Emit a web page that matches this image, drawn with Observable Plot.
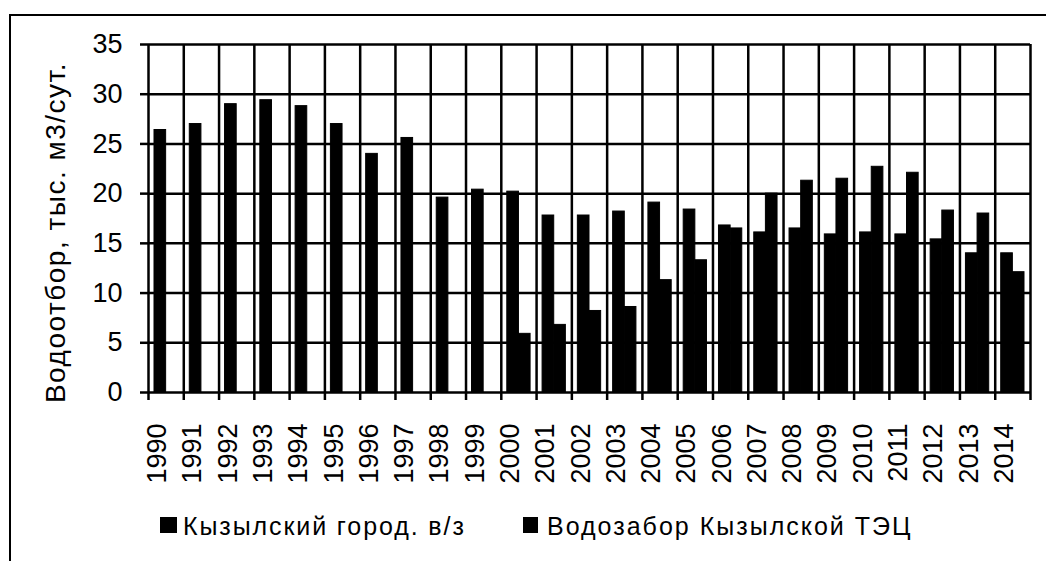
<!DOCTYPE html>
<html><head><meta charset="utf-8">
<script src="https://cdn.jsdelivr.net/npm/d3@7"></script>
<script src="https://cdn.jsdelivr.net/npm/@observablehq/plot@0.6"></script>
<style>
body{margin:0;background:#fff;}
#wrap{position:relative;width:1046px;height:561px;overflow:hidden;font-family:"Liberation Sans",Arial,sans-serif;background:#fff;}
#frame{position:absolute;left:9px;top:14px;right:-5px;bottom:-5px;border-left:2px solid #000;border-top:2px solid #000;}
#chart{position:absolute;left:0;top:0;}
.leg{position:absolute;top:514px;font-size:25px;line-height:25px;white-space:nowrap;color:#000;}
.sw{position:absolute;background:#000;}
</style></head><body>
<div id="wrap"><div id="frame"></div><div id="chart"></div><div id="legend"></div></div>
<script>
const years = [1990,1991,1992,1993,1994,1995,1996,1997,1998,1999,2000,2001,2002,2003,2004,2005,2006,2007,2008,2009,2010,2011,2012,2013,2014];
const kyzylCity = [26.4,27.0,29.0,29.4,28.8,27.0,24.0,25.6,19.6,20.4,20.2,17.8,17.8,18.2,19.1,18.4,16.8,16.1,16.5,15.9,16.1,15.9,15.4,14.0,14.0];
const kyzylTPP = [null,null,null,null,null,null,null,null,null,null,5.9,6.8,8.2,8.6,11.3,13.3,16.5,20.0,21.3,21.5,22.7,22.1,18.3,18.0,12.1];
const yTicks = [0,5,10,15,20,25,30,35];
const seriesNames = ["Кызылский город. в/з","Водозабор Кызылской ТЭЦ"];
const yLabel = "Водоотбор, тыс. м3/сут.";

const boundaries = years.map(y => y - 0.5).concat([years[years.length - 1] + 0.5]);
const barW = 0.33;
const rows1 = years.map((y, i) => ({year: y, value: kyzylCity[i]}));
const rows2 = years.map((y, i) => ({year: y, value: kyzylTPP[i]})).filter(d => d.value != null);

const chart = Plot.plot({
  width: 1046, height: 500,
  marginLeft: 148, marginRight: 16, marginTop: 44, marginBottom: 108,
  style: {fontFamily: "'Liberation Sans', Arial, sans-serif", fontSize: "27px", color: "#000", background: "transparent", overflow: "visible"},
  x: {type: "linear", domain: [boundaries[0], boundaries[boundaries.length - 1]]},
  y: {domain: [0, 35]},
  marks: [
    Plot.ruleY(yTicks, {stroke: "#000", strokeWidth: 2.5}),
    Plot.ruleX(boundaries, {stroke: "#000", strokeWidth: 2.5}),
    Plot.rectY(rows1, {x1: d => d.year - barW, x2: d => d.year, y: "value", fill: "#000", stroke: "#000", strokeWidth: 1}),
    Plot.rectY(rows2, {x1: d => d.year, x2: d => d.year + barW, y: "value", fill: "#000", stroke: "#000", strokeWidth: 1}),
    Plot.axisY({ticks: yTicks, tickSize: 8, tickPadding: 18, label: null, strokeWidth: 2.5, fontSize: 27}),
    Plot.axisX({ticks: boundaries, tickSize: 8, tickFormat: () => "", label: null, strokeWidth: 2.5}),
    Plot.text(years, {x: d => d, text: d => String(d), frameAnchor: "bottom", dy: 31, rotate: -90, textAnchor: "end", fontSize: 27, fill: "#000"}),
    Plot.text([yLabel], {text: d => d, frameAnchor: "left", dx: -92, dy: 14, rotate: -90, textAnchor: "middle", fontSize: 28, fill: "#000", className: "ylab"})
  ]
});
document.getElementById("chart").appendChild(chart);
d3.select(chart).selectAll(".ylab text").style("letter-spacing", "1.5px");

// legend
const legend = document.getElementById("legend");
const legPos = [{sx: 160, sw: 17, tx: 183, ls: 1.9}, {sx: 523, sw: 15, tx: 547, ls: 2.0}];
seriesNames.forEach((name, i) => {
  const p = legPos[i];
  const sw = document.createElement("div");
  sw.className = "sw";
  sw.style.left = p.sx + "px"; sw.style.top = "517px";
  sw.style.width = p.sw + "px"; sw.style.height = "16px";
  legend.appendChild(sw);
  const t = document.createElement("div");
  t.className = "leg";
  t.style.left = p.tx + "px";
  t.style.letterSpacing = p.ls + "px";
  t.textContent = name;
  legend.appendChild(t);
});
</script>
</body></html>
